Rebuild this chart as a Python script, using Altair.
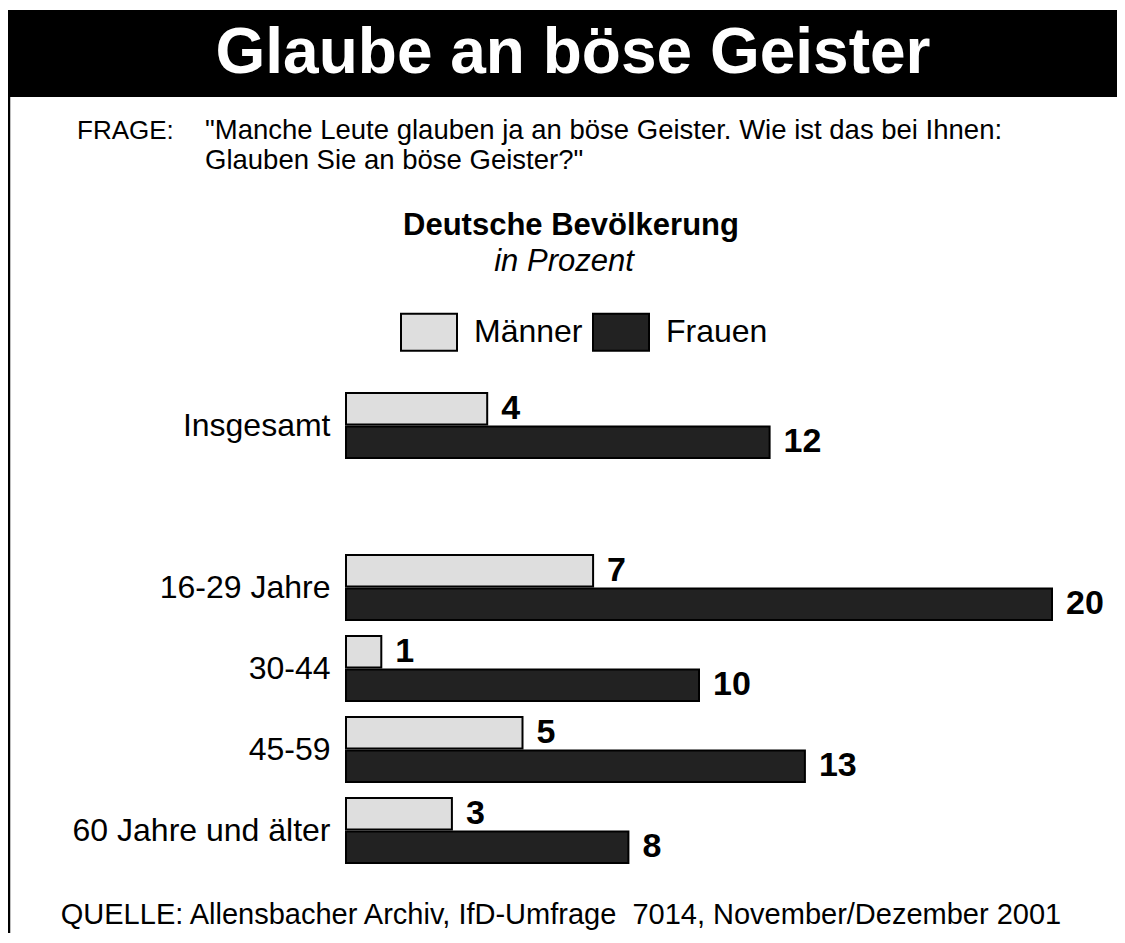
import altair as alt
import pandas as pd

# ---- data ----
categories = ["Insgesamt", "", "16-29 Jahre", "30-44", "45-59", "60 Jahre und älter"]
groups = ["Insgesamt", "16-29 Jahre", "30-44", "45-59", "60 Jahre und älter"]
maenner = [4, 7, 1, 5, 3]
frauen = [12, 20, 10, 13, 8]
series = ["Männer", "Frauen"]
colors = ["#dedede", "#222222"]

title_text = "Glaube an böse Geister"
frage_label = "FRAGE:"
frage_lines = ['"Manche Leute glauben ja an böse Geister. Wie ist das bei Ihnen:',
               'Glauben Sie an böse Geister?"']
subtitle = "Deutsche Bevölkerung"
subtitle2 = "in Prozent"
quelle = "QUELLE: Allensbacher Archiv, IfD-Umfrage\u00a0\u00a07014, November/Dezember 2001"

rows = []
for g, m, f in zip(groups, maenner, frauen):
    rows.append({"gruppe": g, "geschlecht": "Männer", "wert": m})
    rows.append({"gruppe": g, "geschlecht": "Frauen", "wert": f})
df = pd.DataFrame(rows)

FONT = "Liberation Sans"
W, H = 706, 486

y_scale = alt.Scale(domain=categories, paddingInner=0.2, paddingOuter=0.1)
y_enc = alt.Y("gruppe:N", scale=y_scale,
              axis=alt.Axis(title=None, ticks=False, domain=False, labelFontSize=32,
                            labelPadding=16, labelColor="black", labelFont=FONT, grid=False,
                            labelLimit=0))
yoff = alt.YOffset("geschlecht:N", sort=series, scale=alt.Scale(paddingInner=0.06))
x_enc = alt.X("wert:Q", scale=alt.Scale(domain=[0, 20], nice=False), axis=None)
color_enc = alt.Color("geschlecht:N", sort=series,
                      scale=alt.Scale(domain=series, range=colors),
                      legend=alt.Legend(title=None, orient="none", direction="horizontal",
                                        legendX=54, legendY=-82, padding=0,
                                        symbolType="M-1,-0.66L1,-0.66L1,0.66L-1,0.66Z",
                                        symbolSize=3136, symbolStrokeColor="black",
                                        symbolStrokeWidth=2, symbolOpacity=1,
                                        labelFontSize=32, labelFont=FONT, labelColor="black",
                                        labelOffset=16, columnPadding=6))

bars = alt.Chart(df).mark_bar(stroke="black", strokeWidth=2, opacity=1).encode(
    y=y_enc, yOffset=yoff, x=x_enc, color=color_enc)

labels = alt.Chart(df).mark_text(align="left", baseline="middle", dx=14, fontSize=34,
                                 fontWeight="bold", font=FONT, color="black").encode(
    y=alt.Y("gruppe:N", scale=y_scale), yOffset=yoff, x=x_enc, text="wert:Q")

# decorative frame (plot origin is at page pixel 346, 385)
OX, OY = 346, 385


def tx(v):
    return v - OX


def ty(v):
    return v - OY


one = pd.DataFrame({"k": [0]})

title_bar = alt.Chart(one).mark_rect(color="black").encode(
    x=alt.value(tx(9)), x2=alt.value(tx(1130)), y=alt.value(ty(10)), y2=alt.value(ty(97)))
left_border = alt.Chart(one).mark_rule(color="black", strokeWidth=2.5).encode(
    x=alt.value(tx(9)), y=alt.value(ty(10)), y2=alt.value(ty(945)))


def text_layer(txt, x, y, size, align="left", weight="normal", style="normal", color="black"):
    return alt.Chart(pd.DataFrame({"t": [txt]})).mark_text(
        align=align, baseline="middle", fontSize=size, fontWeight=weight, fontStyle=style,
        font=FONT, color=color).encode(x=alt.value(tx(x)), y=alt.value(ty(y)), text="t:N")


texts = [
    text_layer(title_text, 573, 54, 64, align="center", weight="bold", color="white"),
    text_layer(frage_label, 77, 131, 26),
    text_layer(frage_lines[0], 205, 131, 27.5),
    text_layer(frage_lines[1], 205, 161, 27.5),
    text_layer(subtitle, 571, 226, 31, align="center", weight="bold"),
    text_layer(subtitle2, 564, 262, 31, align="center", style="italic"),
    text_layer(quelle, 561, 915, 29, align="center"),
]

chart = alt.layer(title_bar, left_border, bars, labels, *texts).properties(
    width=W, height=H,
    padding={"left": 338, "top": 377, "right": 65, "bottom": 62},
    autosize=alt.AutoSizeParams(type="none"),
).configure(font=FONT).configure_view(stroke="transparent", strokeWidth=0)

chart.save("out.html", embed_options={"renderer": "svg", "actions": False})
